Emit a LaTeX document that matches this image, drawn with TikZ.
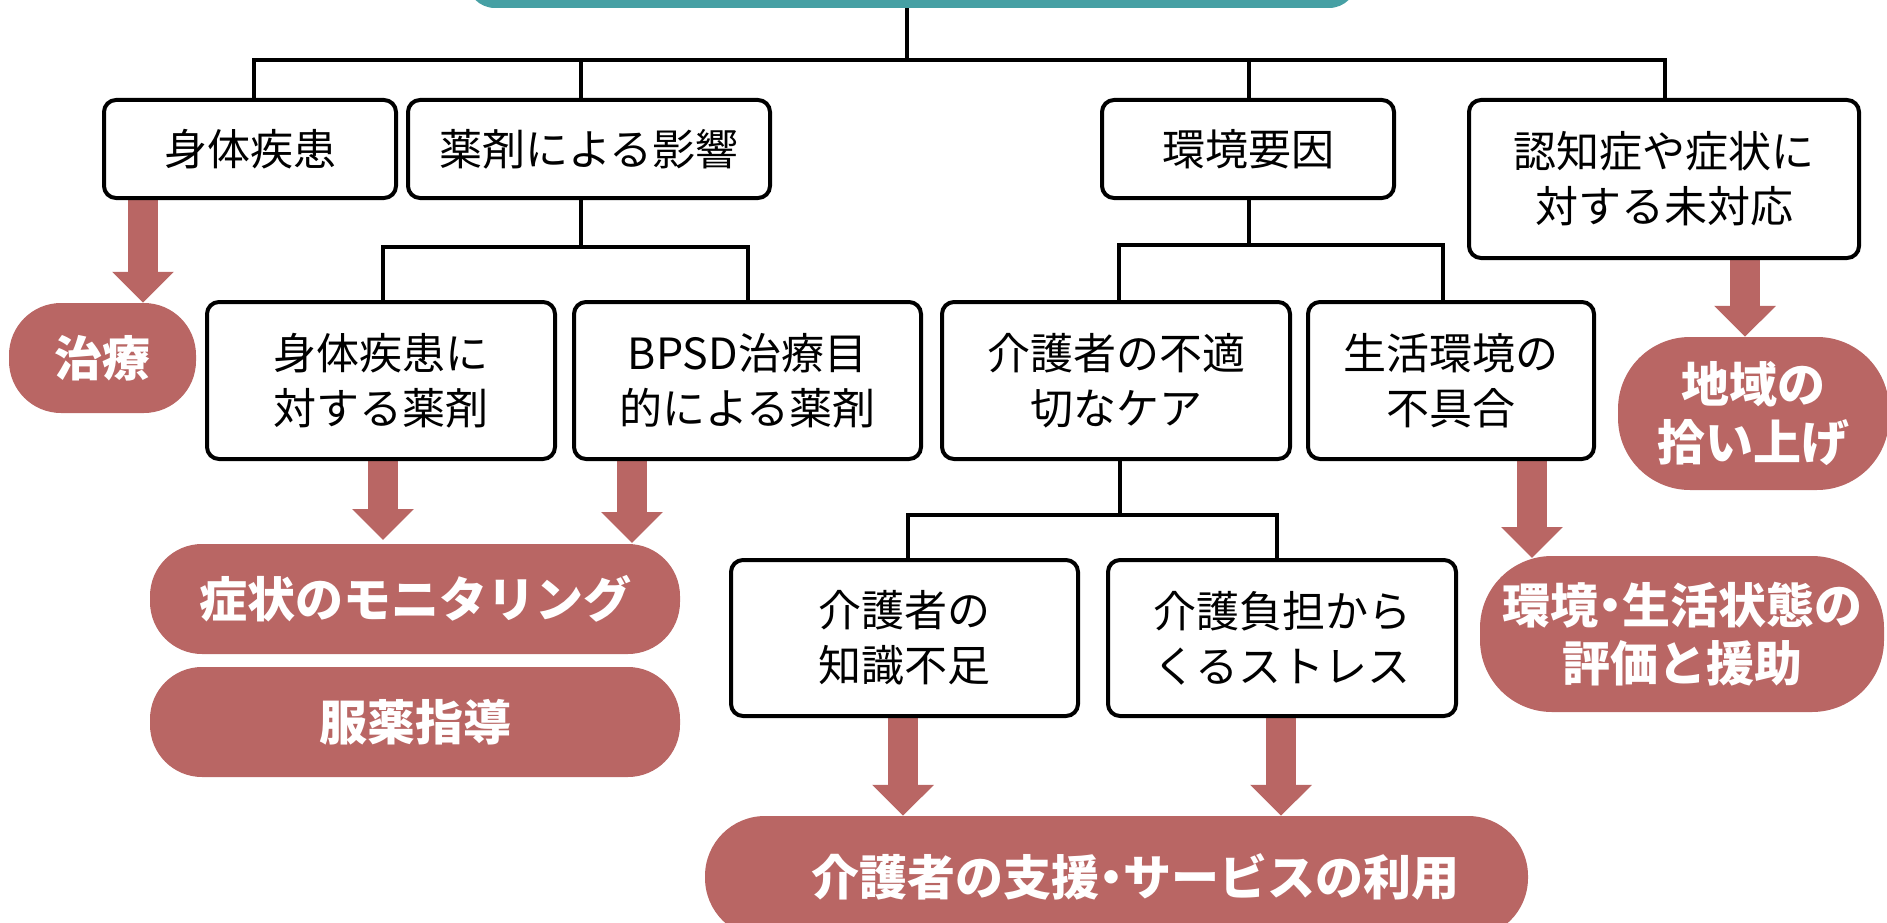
\documentclass[tikz,border=0pt]{standalone}
\usepackage{fontspec}
\setmainfont{Noto Sans CJK JP}
\usetikzlibrary{arrows.meta}
\definecolor{teal1}{RGB}{70,160,164}
\definecolor{rd}{RGB}{185,102,100}
\newcommand{\hdot}{\hspace{-0.25em}・\hspace{-0.25em}}
\begin{document}
\begin{tikzpicture}[x=1pt,y=-1pt,
  box/.style={draw=black, line width=4pt, rounded corners=12pt, fill=white, inner sep=0pt, align=center, font=\fontsize{43}{55}\selectfont},
  outc/.style={fill=rd, text=white, inner sep=0pt, align=center, font=\fontsize{48}{58}\selectfont\bfseries, rounded corners=52pt},
  conn/.style={line width=3.5pt},
  rarr/.style={draw=rd, line width=30pt, -{Triangle[width=60pt,length=31pt]}}]
\useasboundingbox (0,0) rectangle (1887,923);
\clip (0,0) rectangle (1887,923);

% title box (cut by the top edge)
\node[fill=teal1, rounded corners=28pt, minimum width=890pt, minimum height=100pt, inner sep=0pt] (title) at (912,-42) {};

% coordinates for connectors
\coordinate (bus) at (907,60);
\coordinate (b1) at (254,60);
\coordinate (b2) at (581,60);
\coordinate (b3) at (1249,60);
\coordinate (b4) at (1665,60);
\coordinate (s1) at (581,247);
\coordinate (s1a) at (383,247);
\coordinate (s1b) at (748,247);
\coordinate (s2) at (1249,245);
\coordinate (s2a) at (1119,245);
\coordinate (s2b) at (1443,245);
\coordinate (s3) at (1120,515);
\coordinate (s3a) at (908,515);
\coordinate (s3b) at (1277,515);
\coordinate (a1) at (143,0);
\coordinate (a2) at (383,0);
\coordinate (a3) at (632,0);
\coordinate (a4) at (1532,0);
\coordinate (a5) at (1745,0);
\coordinate (a6) at (903,0);
\coordinate (a7) at (1281,0);

% outcome shapes
\node[outc, minimum width=187pt, minimum height=110pt] (chiryo) at (102.5,358) {治療};
\node[outc, minimum width=530pt, minimum height=110pt] (monitor) at (415,599) {症状のモニタリング};
\node[outc, minimum width=530pt, minimum height=110pt] (fukuyaku) at (415,722) {服薬指導};
\node[outc, minimum width=271pt, minimum height=153pt, rounded corners=72pt] (chiiki) at (1753.5,413.5) {地域の\\拾い上げ};
\node[outc, minimum width=404pt, minimum height=156pt, rounded corners=72pt] (hyoka) at (1682,634) {環境\hdot 生活状態の\\評価と援助};
\node[outc, minimum width=823pt, minimum height=122pt, rounded corners=60pt] (shien) at (1116.5,877) {\hspace*{38pt}介護者の支援\hdot サービスの利用};

% red arrows
\draw[rarr] (a1 |- 0,190) -- (a1 |- chiryo.north);
\draw[rarr] (a2 |- 0,450) -- (a2 |- 0,540);
\draw[rarr] (a3 |- 0,450) -- (a3 |- 0,543);
\draw[rarr] (a4 |- 0,450) -- (a4 |- 0,558);
\draw[rarr] (a5 |- 0,250) -- (a5 |- chiiki.north);
\draw[rarr] (a6 |- 0,708) -- (a6 |- shien.north);
\draw[rarr] (a7 |- 0,708) -- (a7 |- shien.north);

% boxes
\node[box, minimum width=292pt, minimum height=98pt] (shin) at (250,149) {身体疾患};
\node[box, minimum width=362pt, minimum height=98pt] (yaku) at (589,149) {薬剤による影響};
\node[box, minimum width=292pt, minimum height=98pt] (kankyo) at (1248,149) {環境要因};
\node[box, minimum width=390pt, minimum height=158pt] (ninchi) at (1664,179) {認知症や症状に\\対する未対応};
\node[box, minimum width=348pt, minimum height=157pt] (shinyaku) at (381,380.5) {身体疾患に\\対する薬剤};
\node[box, minimum width=347pt, minimum height=157pt] (bpsd) at (747.5,380.5) {BPSD治療目\\的による薬剤};
\node[box, minimum width=348pt, minimum height=157pt] (kea) at (1116,380.5) {介護者の不適\\切なケア};
\node[box, minimum width=286pt, minimum height=157pt] (seikatsu) at (1451,380.5) {生活環境の\\不具合};
\node[box, minimum width=347pt, minimum height=156pt] (chishiki) at (904.5,638) {介護者の\\知識不足};
\node[box, minimum width=348pt, minimum height=156pt] (stress) at (1282,638) {介護負担から\\くるストレス};

% tree connectors
\draw[conn] (bus |- title.south) -- (bus);
\draw[conn] (b1 |- shin.north) -- (b1) -- (b4) -- (b4 |- ninchi.north);
\draw[conn] (b2) -- (b2 |- yaku.north);
\draw[conn] (b3) -- (b3 |- kankyo.north);
\draw[conn] (s1 |- yaku.south) -- (s1);
\draw[conn] (s1a |- shinyaku.north) -- (s1a) -- (s1b) -- (s1b |- bpsd.north);
\draw[conn] (s2 |- kankyo.south) -- (s2);
\draw[conn] (s2a |- kea.north) -- (s2a) -- (s2b) -- (s2b |- seikatsu.north);
\draw[conn] (s3 |- kea.south) -- (s3);
\draw[conn] (s3a |- chishiki.north) -- (s3a) -- (s3b) -- (s3b |- stress.north);
\end{tikzpicture}
\end{document}
